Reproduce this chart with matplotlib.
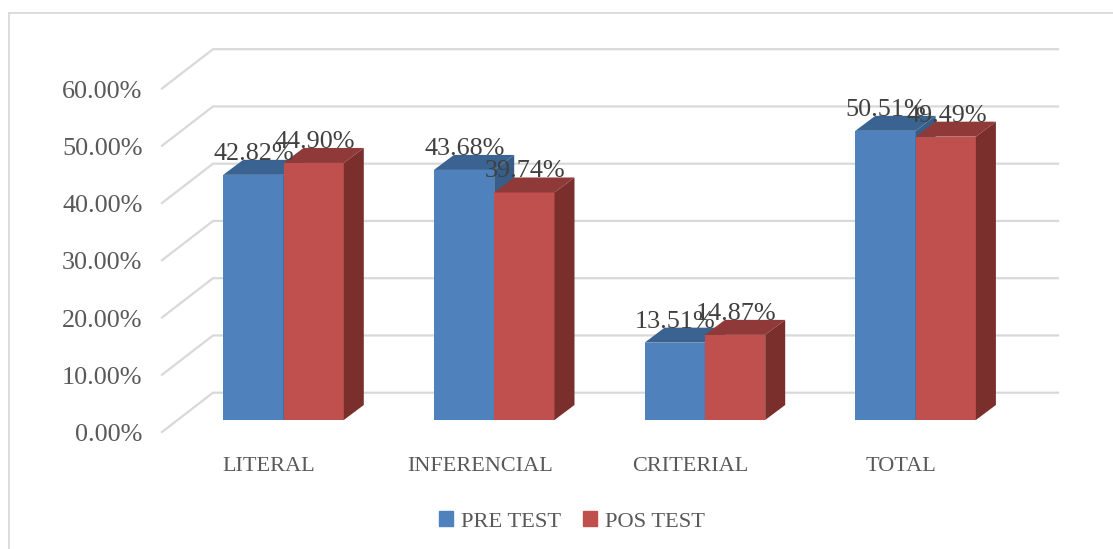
import matplotlib
matplotlib.use("Agg")
import matplotlib.pyplot as plt
from matplotlib.patches import Patch

categories = ["LITERAL", "INFERENCIAL", "CRITERIAL", "TOTAL"]
pre_test = [42.82, 43.68, 13.51, 50.51]
pos_test = [44.90, 39.74, 14.87, 49.49]
y_ticks = [0, 10, 20, 30, 40, 50, 60]

W, H = 1113, 549
group_px = 210.7      # px between groups
value_px = 5.725      # px per 1%
x0_px, y0_px = 283.5, 420  # centre of first group, floor of the bars

# px -> data helpers, the axes fills the whole figure
def px_x(d):
    return d / group_px

def px_y(d):
    return d / value_px

bar_w = px_x(60.3)
dx, dy = px_x(20), px_y(15)

fig = plt.figure(figsize=(W / 100, H / 100), dpi=100)
ax = fig.add_axes([0, 0, 1, 1])
ax.set_xlim(-x0_px / group_px, (W - x0_px) / group_px)
ax.set_ylim((y0_px - H) / value_px, y0_px / value_px)
ax.axis("off")

plt.rcParams["font.family"] = ["Liberation Serif", "DejaVu Serif"]
grid = "#d9d9d9"

# outer frame
fx = px_x(9 - x0_px)
fy = px_y(y0_px - 13)
ax.plot([fx, fx], [ax.get_ylim()[0], fy], color=grid, lw=1.3, zorder=1)
ax.plot([fx, ax.get_xlim()[1]], [fy, fy], color=grid, lw=1.3, zorder=1)

# gridlines: slanted floor part + back wall
left = px_x(162 - x0_px)
back = px_x(213 - x0_px)
right = px_x(1058 - x0_px)
for t in y_ticks:
    y_front = t - px_y(12)
    y_back = t + px_y(27.3)
    ax.plot([left, back, right], [y_front, y_back, y_back], color=grid, lw=1.6, zorder=1)
    ax.annotate(f"{t:.2f}%", (left, y_front), xytext=(-14, -6.6), textcoords="offset points",
                ha="right", va="baseline", fontsize=18.8, color="#595959")


def draw_bar(x, val, front, top, side):
    ax.bar(x, val, width=bar_w, align="edge", color=front, zorder=3)
    ax.fill([x, x + bar_w, x + bar_w + dx, x + dx], [val, val, val + dy, val + dy], color=top, lw=0, zorder=3)
    ax.fill([x + bar_w, x + bar_w + dx, x + bar_w + dx, x + bar_w], [0, dy, val + dy, val], color=side, lw=0, zorder=3)


for i, cat in enumerate(categories):
    draw_bar(i - bar_w, pre_test[i], "#4f81bd", "#3b6391", "#375d89")
    draw_bar(i, pos_test[i], "#c0504d", "#8f3a38", "#7a2f2d")

    ax.annotate(f"{pre_test[i]:.2f}%", (i - bar_w / 2, pre_test[i]), xytext=(0.5, 10.8),
                textcoords="offset points", ha="center", va="baseline", fontsize=18.8,
                color="#404040", zorder=5)
    ax.annotate(f"{pos_test[i]:.2f}%", (i + bar_w / 2, pos_test[i]), xytext=(0.5, 10.8),
                textcoords="offset points", ha="center", va="baseline", fontsize=18.8,
                color="#404040", zorder=5)
    ax.text(i - px_x(14.5), px_y(-51), cat, ha="center", va="baseline", fontsize=16, color="#595959")

handles = [Patch(color="#4f81bd", label="PRE TEST"), Patch(color="#c0504d", label="POS TEST")]
ax.legend(handles=handles, loc="center", bbox_to_anchor=(572 / W, 1 - 521.5 / H),
          bbox_transform=fig.transFigure, ncol=2, frameon=False, prop={"size": 16.2},
          labelcolor="#595959", handlelength=0.6, handleheight=0.6, handletextpad=0.35,
          columnspacing=1.0, borderpad=0)

fig.savefig("out.png", dpi=100, facecolor="white")
